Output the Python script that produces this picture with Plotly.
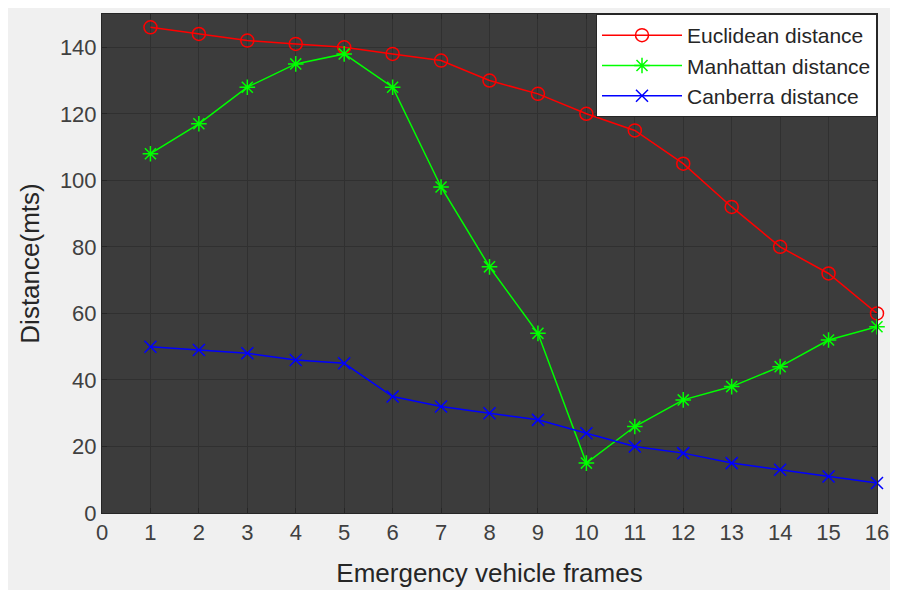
import plotly.graph_objects as go

frames = list(range(1, 17))
euclidean = [146, 144, 142, 141, 140, 138, 136, 130, 126, 120, 115, 105, 92, 80, 72, 60]
manhattan = [108, 117, 128, 135, 138, 128, 98, 74, 54, 15, 26, 34, 38, 44, 52, 56]
canberra = [50, 49, 48, 46, 45, 35, 32, 30, 28, 24, 20, 18, 15, 13, 11, 9]

FONT = "Liberation Sans, Arial, sans-serif"

fig = go.Figure()
fig.add_trace(go.Scatter(x=frames, y=euclidean, name="Euclidean distance", mode="lines+markers",
                         cliponaxis=False,
                         line=dict(color="#ff0000", width=1.5),
                         marker=dict(symbol="circle-open", size=13, color="#ff0000", line=dict(width=1.5))))
fig.add_trace(go.Scatter(x=frames, y=manhattan, name="Manhattan distance", mode="lines+markers",
                         cliponaxis=False,
                         line=dict(color="#00ff00", width=1.5),
                         marker=dict(symbol="asterisk-open", size=13, color="#00ff00", line=dict(width=1.5))))
fig.add_trace(go.Scatter(x=frames, y=canberra, name="Canberra distance", mode="lines+markers",
                         cliponaxis=False,
                         line=dict(color="#0000ff", width=1.5),
                         marker=dict(symbol="x-thin-open", size=12, color="#0000ff", line=dict(width=1.5))))

axis_common = dict(showline=True, linecolor="#262626", linewidth=1, mirror="ticks",
                   ticks="inside", ticklen=5, tickcolor="#262626",
                   showgrid=True, gridcolor="#303030", gridwidth=1, zeroline=False,
                   ticklabeloverflow="allow",
                   tickfont=dict(family=FONT, size=22, color="#404040"))

fig.update_xaxes(range=[0, 16], dtick=1, tick0=0,
                 title=dict(text="Emergency vehicle frames", font=dict(family=FONT, size=26, color="#262626"), standoff=19),
                 **axis_common)
fig.update_yaxes(range=[0, 150], tickvals=[0, 20, 40, 60, 80, 100, 120, 140],
                 title=dict(text="Distance(mts)", font=dict(family=FONT, size=26, color="#262626"), standoff=12),
                 **axis_common)

fig.update_layout(
    width=882, height=582,
    margin=dict(l=94, r=13, t=6, b=77, autoexpand=False),
    paper_bgcolor="#f0f0f0",
    plot_bgcolor="#3c3c3c",
    legend=dict(x=1, y=1, xanchor="right", yanchor="top", bgcolor="white",
                bordercolor="#262626", borderwidth=1, itemwidth=80,
                font=dict(family=FONT, size=21, color="#262626"),
                tracegroupgap=0),
    showlegend=True,
)

fig.write_html("out.html", post_script="document.documentElement.style.overflow='hidden';")
